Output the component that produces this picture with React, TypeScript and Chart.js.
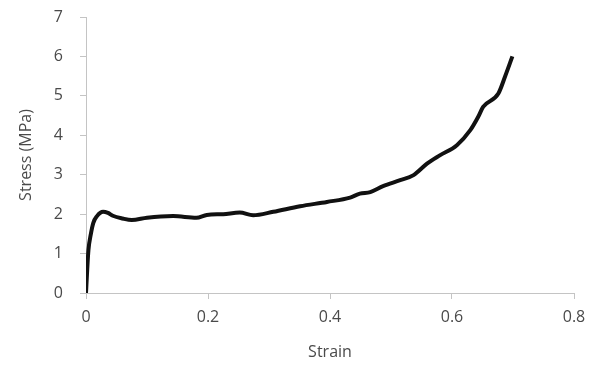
import React, { useEffect, useRef } from "react";
import { Chart, registerables } from "chart.js";

Chart.register(...registerables);

const strain = [0, 0.002, 0.004, 0.008, 0.012, 0.018, 0.028, 0.036, 0.044, 0.06, 0.075, 0.1, 0.143, 0.181, 0.198, 0.225, 0.252, 0.274, 0.307, 0.351, 0.395, 0.433, 0.449, 0.466, 0.487, 0.515, 0.537, 0.559, 0.58, 0.608, 0.63, 0.643, 0.651, 0.676, 0.687, 0.699];
const stress = [0, 0.6, 1.09, 1.5, 1.78, 1.95, 2.06, 2.03, 1.96, 1.89, 1.85, 1.91, 1.95, 1.91, 1.98, 2.0, 2.04, 1.97, 2.06, 2.2, 2.31, 2.42, 2.52, 2.56, 2.71, 2.86, 2.99, 3.28, 3.49, 3.75, 4.13, 4.47, 4.72, 5.06, 5.49, 6.0];

const xTitle = "Strain";
const yTitle = "Stress (MPa)";
const xMax = 0.8;
const xStep = 0.2;
const yMax = 7;
const yStep = 1;

export default function App() {
  const ref = useRef<HTMLCanvasElement>(null);
  useEffect(() => {
    document.body.style.margin = "0";
    const canvas = ref.current!;
    const font = { family: "'Open Sans', 'Noto Sans', sans-serif", size: 16 };
    const axisColor = "#c4c4c4";
    const textColor = "#4a4a4a";
    const chart = new Chart(canvas, {
      type: "line",
      data: {
        datasets: [
          {
            data: strain.map((x, i) => ({ x, y: stress[i] })),
            borderColor: "#111111",
            borderWidth: 4,
            pointRadius: 0,
            cubicInterpolationMode: "monotone",
            fill: false,
          },
        ],
      },
      options: {
        animation: false,
        responsive: false,
        devicePixelRatio: 1,
        layout: { padding: { left: 0, top: 17, right: 23, bottom: 0 } },
        plugins: { legend: { display: false }, tooltip: { enabled: false } },
        scales: {
          x: {
            type: "linear",
            min: 0,
            max: xMax,
            afterFit: (s: any) => { s.height = 72; s.paddingLeft = 0; s.paddingRight = 0; },
            ticks: { stepSize: xStep, color: textColor, font, padding: 9, maxRotation: 0 },
            grid: { drawOnChartArea: false, color: axisColor, tickLength: 6 },
            border: { color: axisColor, width: 1 },
            title: { display: true, text: xTitle, color: textColor, font, padding: { top: 0, bottom: 3 } },
          },
          y: {
            min: 0,
            max: yMax,
            afterFit: (s: any) => { s.width = 86; s.paddingTop = 0; s.paddingBottom = 0; },
            ticks: { stepSize: yStep, color: textColor, font, padding: 17 },
            grid: { drawOnChartArea: false, color: axisColor, tickLength: 6 },
            border: { color: axisColor, width: 1 },
            title: { display: true, text: yTitle, color: textColor, font, padding: { top: 17, bottom: 0 } },
          },
        },
      },
    });
    return () => chart.destroy();
  }, []);
  return <canvas ref={ref} width={597} height={365} style={{ display: "block" }} />;
}
